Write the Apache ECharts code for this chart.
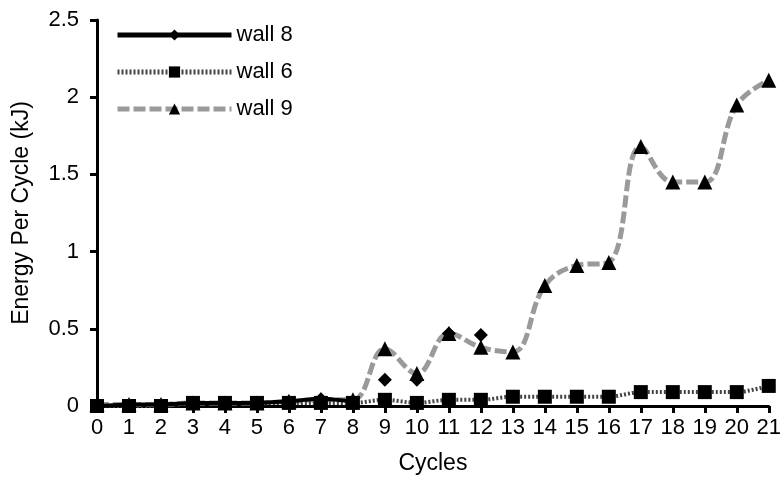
<!DOCTYPE html>
<html><head><meta charset="utf-8">
<script src="https://cdn.jsdelivr.net/npm/echarts@6/dist/echarts.min.js"></script>
<style>html,body{margin:0;padding:0;background:#fff}#c{width:784px;height:481px}</style>
</head><body><div id="c"></div>
<script>
const cycles = ['0','1','2','3','4','5','6','7','8','9','10','11','12','13','14','15','16','17','18','19','20','21'];
const wall8Line = [0, 0.01, 0.01, 0.02, 0.02, 0.02, 0.03, 0.05, 0.03];
const wall8Points = [null, null, null, null, null, null, null, null, null, 0.17, 0.17, 0.47, 0.46];
const wall6 = [0, 0, 0, 0.02, 0.02, 0.02, 0.02, 0.02, 0.02, 0.04, 0.02, 0.04, 0.04, 0.06, 0.06, 0.06, 0.06, 0.09, 0.09, 0.09, 0.09, 0.13];
const wall9 = [0.01, 0.01, 0.01, 0.02, 0.02, 0.02, 0.03, 0.04, 0.04, 0.37, 0.21, 0.47, 0.38, 0.35, 0.78, 0.91, 0.93, 1.68, 1.45, 1.45, 1.95, 2.11];
const yTicks = { min: 0, max: 2.5, interval: 0.5 };

const font = 'Liberation Sans, Arial, sans-serif';
const chart = echarts.init(document.getElementById('c'), null, { renderer: 'canvas' });
chart.setOption({
  animation: false,
  backgroundColor: '#fff',
  grid: { left: 97, right: 8, top: 20, bottom: 75, containLabel: false },
  legend: {
    orient: 'vertical', left: 110, top: 19, itemWidth: 114, itemHeight: 14, itemGap: 15,
    textStyle: { fontFamily: font, fontSize: 22, color: '#000' },
    data: [
      { name: 'wall 8', lineStyle: { width: 5 } },
      { name: 'wall 6', lineStyle: { width: 5 } },
      { name: 'wall 9', lineStyle: { width: 5 } }
    ]
  },
  xAxis: {
    type: 'category', data: cycles, boundaryGap: false,
    name: 'Cycles', nameLocation: 'middle', nameGap: 46,
    nameTextStyle: { fontFamily: font, fontSize: 23, color: '#000' },
    axisLine: { lineStyle: { color: '#000', width: 3 } },
    axisTick: { show: true, length: 7, lineStyle: { color: '#000', width: 3 }, alignWithLabel: true },
    axisLabel: { fontFamily: font, fontSize: 22, color: '#000', margin: 11, interval: 0 },
    splitLine: { show: false }
  },
  yAxis: {
    type: 'value', min: yTicks.min, max: yTicks.max, interval: yTicks.interval,
    name: 'Energy Per Cycle (kJ)', nameLocation: 'middle', nameGap: 64,
    nameTextStyle: { fontFamily: font, fontSize: 23, color: '#000' },
    axisLine: { show: true, lineStyle: { color: '#000', width: 3 } },
    axisTick: { show: true, length: 7, lineStyle: { color: '#000', width: 3 } },
    axisLabel: { fontFamily: font, fontSize: 22, color: '#000', margin: 18 },
    splitLine: { show: false }
  },
  series: [
    {
      name: 'wall 8', type: 'line', data: wall8Line, z: 4,
      symbol: 'diamond', symbolSize: 12, itemStyle: { color: '#000' },
      lineStyle: { color: '#000', width: 4 }
    },
    {
      name: 'wall 8', type: 'scatter', data: wall8Points, z: 5,
      symbol: 'diamond', symbolSize: 14, itemStyle: { color: '#000', opacity: 1 }
    },
    {
      name: 'wall 6', type: 'line', data: wall6, smooth: 0.3, z: 3,
      symbol: 'rect', symbolSize: 14, itemStyle: { color: '#000' },
      lineStyle: { color: '#444', width: 4, type: [2, 2] }
    },
    {
      name: 'wall 9', type: 'line', data: wall9, smooth: 0.4, z: 2,
      symbol: 'triangle', symbolSize: 15, itemStyle: { color: '#000' },
      lineStyle: { color: '#9a9a9a', width: 5, type: [12, 4] }
    }
  ]
});
</script></body></html>
